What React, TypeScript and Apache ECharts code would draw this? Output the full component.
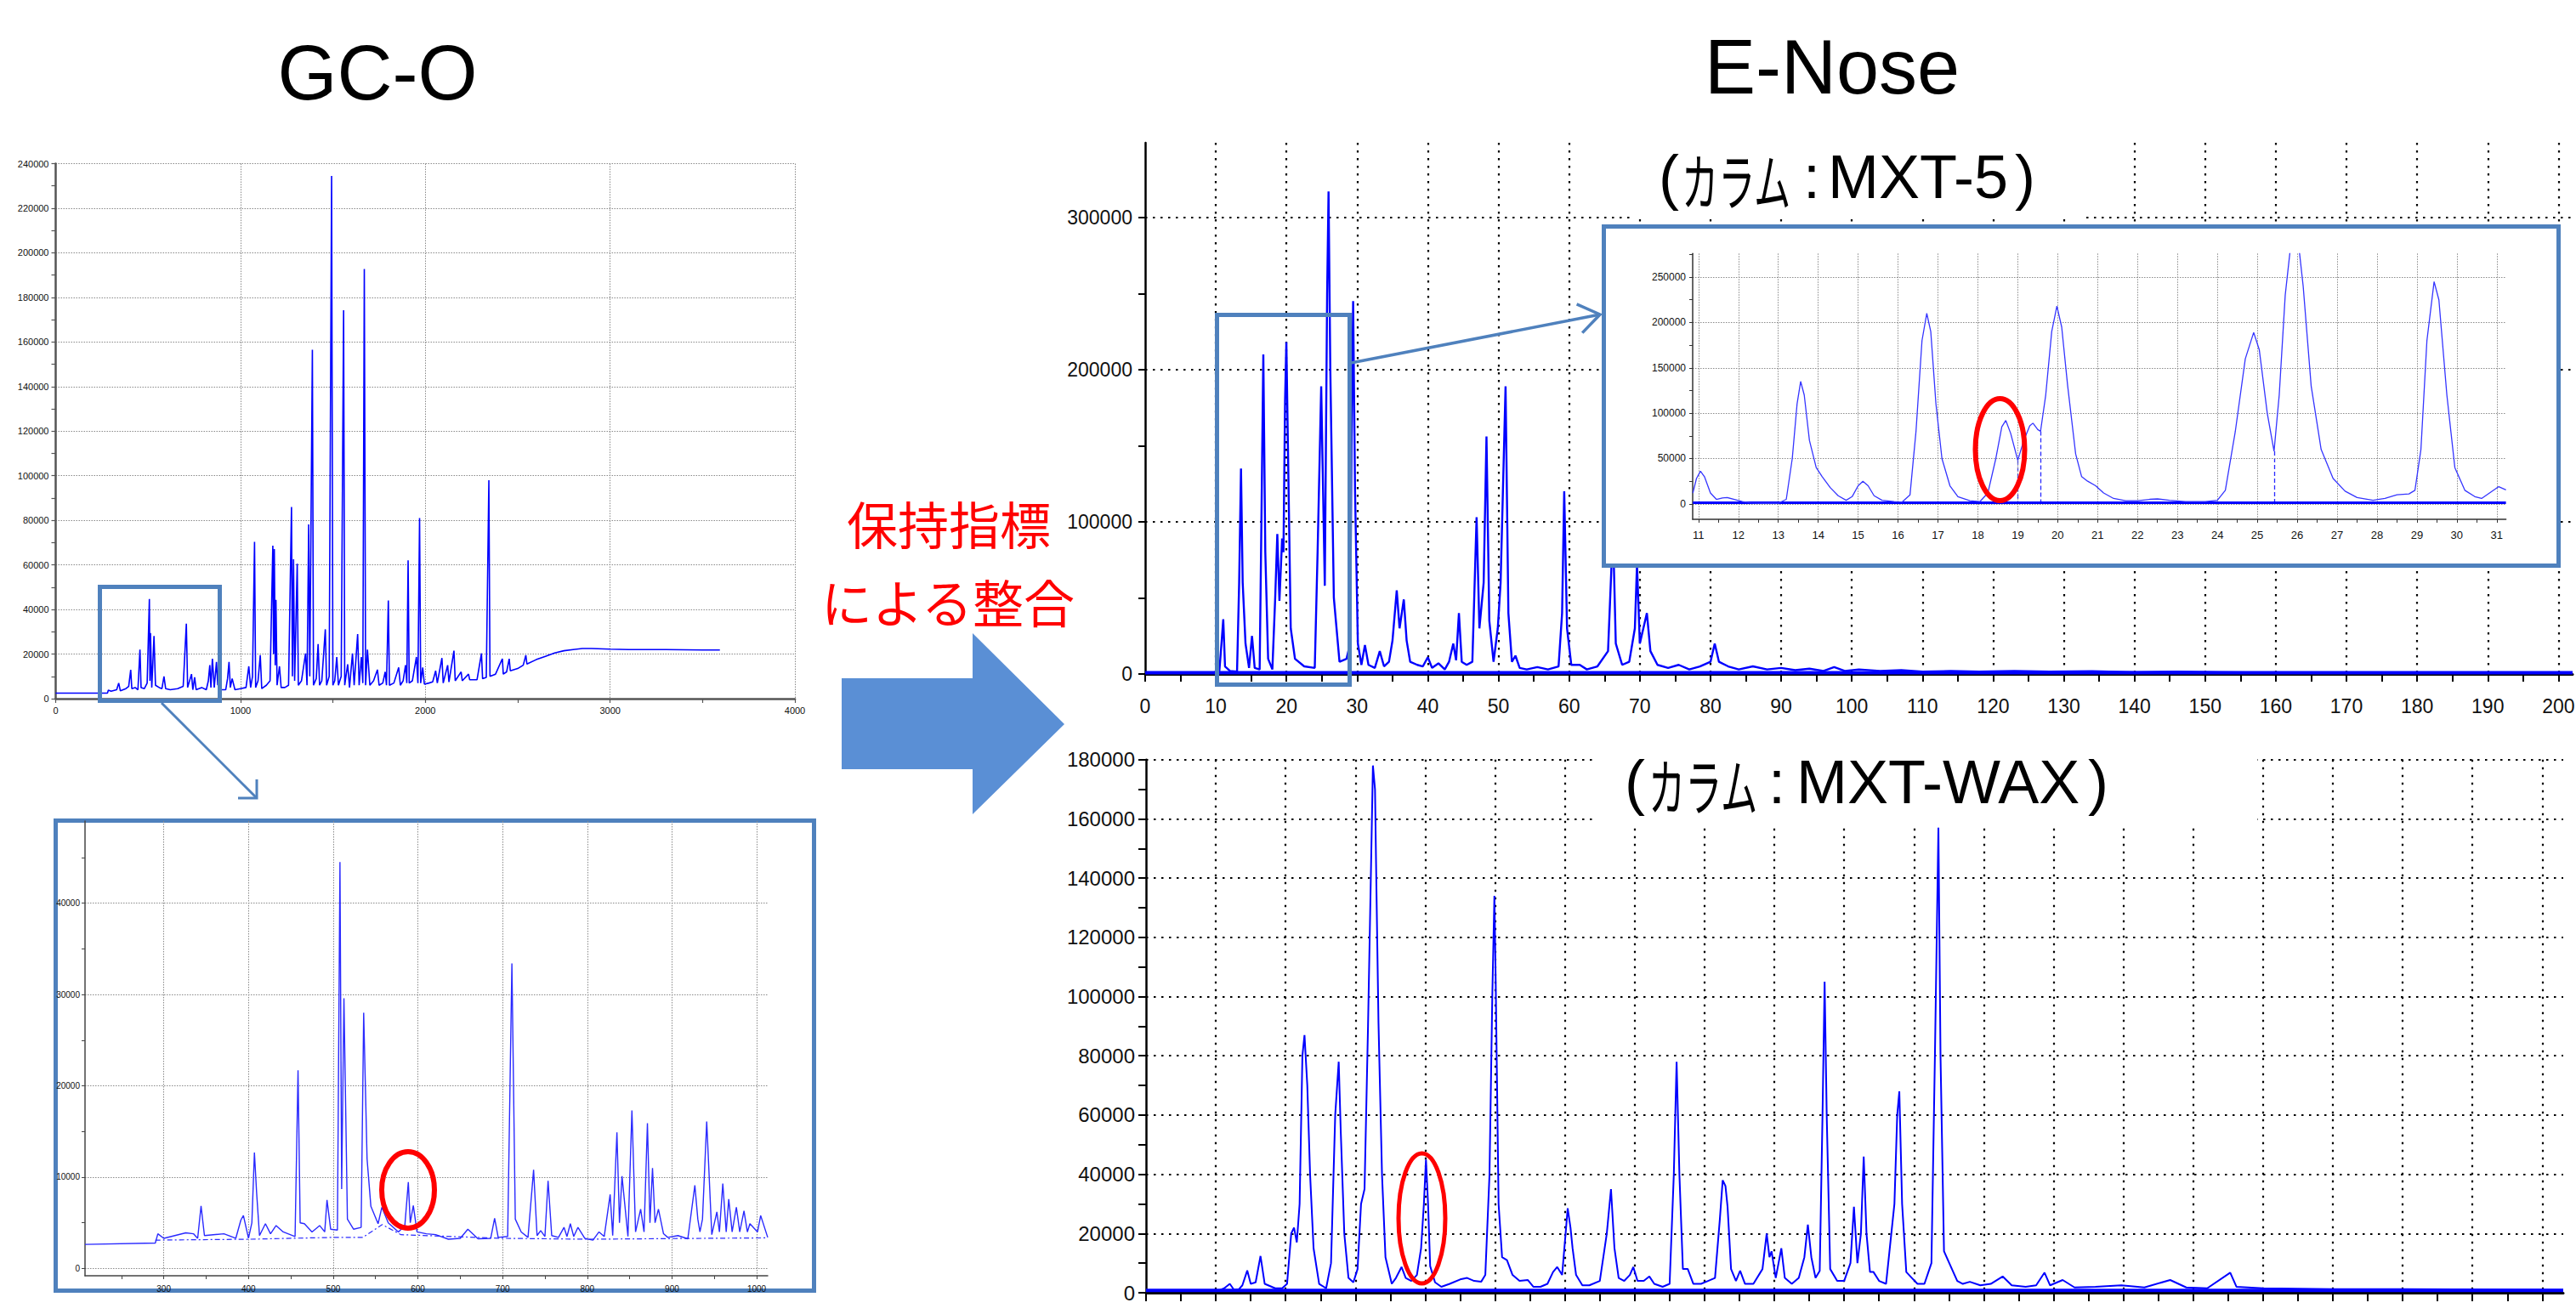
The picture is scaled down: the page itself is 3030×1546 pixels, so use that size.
import React, { useEffect, useRef } from "react";
import * as echarts from "echarts";

const F = "'Liberation Sans', Arial, Helvetica, sans-serif";
const CJK = "'Noto Sans CJK JP', 'Noto Sans CJK SC', sans-serif";

// ---------------- GC-O main chromatogram [time, intensity] ----------------
const GCO_MAIN: number[][] = [
  [0, 2500], [280, 2500], [285, 3800], [300, 3300], [330, 4000], [341, 7000], [350, 3500], [380, 4500], [395, 5500],
  [406, 12900], [412, 4500], [430, 5000], [445, 4000], [456, 22000], [462, 5000], [480, 4500], [495, 7000],
  [507, 44700], [510, 8000], [513, 29400], [520, 5000], [532, 28100], [540, 6000], [560, 5000], [575, 4500],
  [586, 10000], [595, 4500], [620, 4000], [660, 4500], [690, 5500], [707, 33600], [714, 5000], [735, 11000],
  [742, 4000], [752, 9600], [760, 4000], [790, 5000], [815, 4000], [826, 8000], [834, 15000], [840, 5000],
  [848, 17900], [858, 5000], [870, 16500], [877, 6000], [884, 10400], [895, 4000], [920, 4000], [930, 9000],
  [938, 16500], [945, 5000], [955, 9000], [970, 4000], [1000, 4500], [1030, 5000], [1045, 14500], [1055, 5000],
  [1065, 10000], [1076, 70300], [1082, 5000], [1095, 8000], [1107, 19500], [1115, 4500], [1140, 6000],
  [1160, 8000], [1175, 68600], [1179, 20000], [1183, 67100], [1188, 15000], [1192, 44300], [1198, 6000],
  [1211, 14500], [1220, 5000], [1240, 5000], [1260, 6000], [1276, 86000], [1281, 10000], [1287, 62500],
  [1293, 8000], [1307, 60500], [1313, 6000], [1330, 8000], [1352, 20300], [1360, 6000], [1369, 78200],
  [1375, 10000], [1389, 156500], [1395, 6000], [1410, 9000], [1420, 24500], [1428, 6000], [1440, 8000],
  [1459, 31100], [1466, 6000], [1480, 10000], [1493, 234500], [1500, 6000], [1510, 8000], [1521, 18700],
  [1530, 6000], [1545, 10000], [1558, 174200], [1564, 6000], [1580, 15400], [1590, 5000], [1606, 20300],
  [1615, 6000], [1634, 29000], [1642, 6000], [1654, 18700], [1662, 7000], [1670, 192700], [1677, 6000],
  [1687, 22000], [1700, 6000], [1720, 8000], [1741, 13000], [1750, 6000], [1770, 7000], [1783, 12000],
  [1790, 6000], [1800, 44000], [1806, 6000], [1830, 7000], [1856, 14000], [1865, 6000], [1880, 8000],
  [1893, 15000], [1900, 7000], [1907, 62000], [1913, 7000], [1930, 8000], [1952, 18700], [1960, 7000],
  [1969, 81000], [1975, 7000], [1986, 14000], [1995, 6500], [2020, 7000], [2040, 7500], [2056, 12500],
  [2065, 7000], [2090, 18200], [2097, 7000], [2121, 15000], [2128, 7500], [2155, 21500], [2162, 8000],
  [2194, 12000], [2200, 8000], [2234, 11000], [2240, 8500], [2280, 8500], [2304, 20300], [2310, 9000],
  [2330, 9500], [2344, 98000], [2350, 10000], [2380, 11000], [2417, 17900], [2422, 11000], [2440, 12000],
  [2454, 17900], [2460, 12500], [2500, 13500], [2530, 15000], [2544, 19500], [2550, 15500], [2600, 17500],
  [2650, 19000], [2700, 20500], [2750, 21500], [2800, 22000], [2850, 22500], [2900, 22500], [3000, 22200],
  [3100, 22000], [3300, 22000], [3500, 21800], [3594, 21800],
];

// ---------------- GC-O zoomed inset ----------------
const GCO_INSET: number[][] = [
  [207, 2630], [290, 2780], [293, 3800], [300, 3300], [326, 3900], [335, 3800], [340, 3300], [344, 6850],
  [348, 3600], [371, 3800], [385, 3300], [391, 5300], [394, 5800], [400, 3300], [404, 5000], [407, 12700],
  [409.6, 8300], [413, 3600], [420, 4900], [426, 3800], [432.6, 4700], [441, 4000], [455, 3500], [458.5, 21700],
  [461, 5000], [466, 4900], [475, 4000], [484, 4700], [490, 4000], [492.7, 7500], [497, 4300], [505, 4200],
  [508, 44500], [510, 8700], [512.7, 29600], [516.8, 5400], [524, 4300], [533, 4500], [536, 28000], [540, 12000],
  [544.5, 6800], [553, 4900], [557.5, 6700], [565, 5000], [577, 4000], [584.6, 4700], [588.7, 9450], [591, 5000],
  [594.6, 6900], [599, 4000], [610, 3800], [621, 3700], [636, 3200], [650, 3300], [659, 4300], [671, 3250],
  [686, 3300], [690.6, 5500], [694.8, 3400], [706, 3500], [711, 33400], [715, 5400], [722, 4000], [730, 3400],
  [736.6, 10800], [740.7, 3600], [745, 4150], [750, 3500], [753.7, 9600], [758, 3600], [766, 3400],
  [772.5, 4500], [776, 3500], [780, 4900], [784, 3500], [789, 4500], [797, 3300], [806.7, 3100], [813.8, 4000],
  [820, 3500], [827, 8100], [830, 3600], [835, 14900], [838, 5000], [841, 10100], [848, 3500], [852.7, 17300],
  [857, 4000], [863, 6500], [867, 4000], [871, 15900], [874, 5000], [877, 11000], [880, 5000], [884, 6500],
  [890, 3800], [895, 3400], [907, 3600], [918.7, 3250], [927, 9100], [930.5, 5400], [933, 4000], [936, 5400],
  [941, 16100], [947, 3700], [953, 6200], [956, 4000], [960, 9300], [964, 4000], [967, 7600], [971, 4000],
  [976, 6700], [980, 4000], [985, 6300], [989, 4000], [992, 4900], [1001, 4000], [1004.7, 5800], [1013, 3400],
];
const GCO_INSET_BASE: number[][] = [
  [290, 3100], [400, 3200], [500, 3400], [535, 3400], [558, 4800], [580, 3700], [700, 3300], [800, 3200], [1013, 3350],
];

// ---------------- E-Nose MXT-5 main ----------------
const MXT5_MAIN: number[][] = [
  [0, 800], [9.5, 800], [10.5, 2000], [10.8, 20000], [11.05, 36000], [11.3, 5000], [12, 2000], [13.0, 1500],
  [13.3, 60000], [13.56, 135000], [13.8, 60000], [14.2, 20000], [14.7, 4000], [15.12, 25000], [15.5, 4000],
  [16.2, 3000], [16.45, 100000], [16.72, 210000], [17.0, 80000], [17.4, 10000], [18.0, 3000], [18.4, 50000],
  [18.7, 92000], [19.0, 48000], [19.38, 89000], [19.57, 80000], [19.8, 180000], [19.98, 218000], [20.2, 150000],
  [20.6, 30000], [21.2, 10000], [22.5, 5000], [24.0, 4000], [24.4, 80000], [24.91, 189000], [25.42, 58000],
  [25.75, 250000], [25.95, 317000], [26.2, 200000], [26.7, 50000], [27.5, 8000], [28.5, 10000], [29.0, 20000],
  [29.2, 150000], [29.43, 245000], [29.7, 120000], [30.1, 20000], [30.6, 6000], [31.1, 19000], [31.6, 6000],
  [32.5, 4000], [33.2, 15000], [33.8, 5000], [34.5, 8000], [35.0, 22000], [35.6, 55000], [36.0, 30000],
  [36.6, 49000], [37.0, 22000], [37.5, 8000], [38.5, 6000], [39.3, 5000], [40.0, 11000], [40.6, 4000],
  [41.5, 7000], [42.4, 3000], [43.0, 8000], [43.6, 20000], [44.0, 9000], [44.4, 40000], [44.8, 8000],
  [45.5, 6000], [46.3, 8000], [46.9, 103000], [47.3, 30000], [47.9, 60000], [48.3, 156000], [48.7, 35000],
  [49.3, 8000], [49.9, 30000], [50.3, 60000], [51.0, 189000], [51.4, 40000], [51.9, 8000], [52.4, 12000],
  [53.0, 4000], [54.0, 3000], [55.5, 4500], [57.0, 3000], [58.5, 5000], [59.0, 40000], [59.3, 120000],
  [59.7, 30000], [60.3, 6000], [61.5, 6000], [62.5, 3000], [64.0, 5000], [65.5, 15000], [66.2, 95000],
  [66.6, 20000], [67.5, 6000], [68.5, 8000], [69.3, 30000], [69.6, 72000], [70.0, 20000], [70.5, 30000],
  [71.0, 40000], [71.5, 15000], [72.5, 6000], [74.0, 4000], [75.5, 6000], [77.0, 3000], [78.5, 5000],
  [80.0, 8000], [80.6, 20000], [81.2, 8000], [82.5, 5000], [84.0, 3000], [86.0, 5000], [88.0, 3000],
  [90.0, 4000], [92.0, 2500], [94.0, 3500], [96.0, 2000], [97.5, 4500], [99.0, 2000], [101.0, 3000],
  [104.0, 2000], [107.0, 2500], [110.0, 1500], [114.0, 2000], [118.0, 1500], [123.0, 2000], [128.0, 1500],
  [134.0, 1800], [140.0, 1200], [146.0, 1500], [152.0, 1200], [156.0, 1000], [202.0, 800],
];
const MXT5_BASE: number[][] = [[0, 800], [202, 800]];

// ---------------- E-Nose MXT-5 zoomed inset ----------------
const MXT5_INSET: number[][] = [
  [10.86, 12000], [10.95, 28000], [11.05, 36000], [11.15, 30000], [11.3, 12000], [11.45, 5000], [11.6, 6500],
  [11.72, 7000], [11.9, 5000], [12.1, 2500], [12.3, 1200], [12.6, 800], [13.0, 800], [13.2, 5000],
  [13.35, 50000], [13.47, 110000], [13.56, 135000], [13.65, 120000], [13.78, 70000], [13.95, 40000],
  [14.1, 30000], [14.3, 18000], [14.5, 9000], [14.7, 4000], [14.85, 8000], [15.0, 20000], [15.12, 25000],
  [15.25, 20000], [15.4, 9000], [15.6, 4000], [15.9, 2500], [16.1, 2000], [16.3, 10000], [16.45, 80000],
  [16.6, 180000], [16.72, 210000], [16.82, 190000], [16.95, 110000], [17.1, 50000], [17.3, 20000],
  [17.5, 8000], [17.8, 3500], [18.05, 2500], [18.25, 12000], [18.45, 50000], [18.6, 85000], [18.7, 92000],
  [18.82, 78000], [19.0, 48000], [19.15, 70000], [19.3, 86000], [19.38, 89000], [19.5, 82000], [19.57, 80000],
  [19.7, 120000], [19.85, 190000], [19.98, 218000], [20.1, 195000], [20.25, 130000], [20.45, 55000],
  [20.6, 30000], [20.75, 25000], [20.95, 20000], [21.15, 12000], [21.4, 6000], [21.7, 3500], [22.0, 3500],
  [22.3, 5000], [22.5, 5500], [22.8, 4000], [23.2, 2500], [23.7, 2500], [24.0, 4000], [24.2, 15000],
  [24.45, 80000], [24.7, 160000], [24.91, 189000], [25.05, 170000], [25.25, 100000], [25.42, 58000],
  [25.55, 120000], [25.7, 230000], [25.85, 290000], [26.0, 300000], [26.15, 240000], [26.35, 130000],
  [26.6, 60000], [26.9, 28000], [27.2, 14000], [27.5, 7000], [27.9, 4000], [28.2, 6000], [28.5, 10000],
  [28.8, 11000], [28.95, 15000], [29.1, 60000], [29.25, 180000], [29.43, 245000], [29.55, 225000],
  [29.75, 120000], [29.95, 40000], [30.2, 15000], [30.45, 8000], [30.62, 6000], [30.85, 13000],
  [31.05, 19000], [31.23, 15500],
];
const MXT5_INSET_BASE: number[][] = [[10.86, 1200], [31.23, 1200]];
const MXT5_INSET_DROPS: number[][] = [[19.0, 48000], [19.57, 80000], [25.42, 58000]];

// ---------------- E-Nose MXT-WAX ----------------
const WAX_MAIN: number[][] = [
  [0, 800], [10.5, 800], [11.2, 1500], [12.0, 3000], [12.6, 1000], [13.3, 1200], [13.8, 2500], [14.5, 7500],
  [15.0, 3000], [15.7, 3500], [16.4, 12400], [17.0, 3000], [18.5, 1500], [19.5, 1500], [20.2, 3000],
  [20.8, 20000], [21.2, 22000], [21.6, 17000], [22.0, 30000], [22.4, 80000], [22.7, 87000], [23.1, 70000],
  [23.5, 40000], [24.0, 15000], [24.8, 3000], [25.8, 1500], [26.5, 10000], [27.1, 60000], [27.6, 78000],
  [27.9, 54000], [28.4, 20000], [29.0, 5000], [29.7, 3500], [30.3, 8000], [30.8, 30000], [31.3, 35000],
  [31.8, 90000], [32.2, 140000], [32.5, 178000], [32.8, 170000], [33.0, 137000], [33.3, 91000], [33.8, 40000],
  [34.3, 12000], [35.2, 3000], [35.8, 5000], [36.6, 8700], [37.2, 5000], [38.0, 4000], [38.8, 6000],
  [39.4, 15000], [39.8, 30000], [40.1, 45000], [40.4, 30000], [40.7, 9000], [41.4, 3500], [42.3, 2000],
  [43.5, 3000], [45.0, 4500], [46.0, 5000], [47.0, 4000], [48.0, 3700], [48.6, 6000], [49.2, 40000],
  [49.6, 100000], [49.9, 134000], [50.1, 103000], [50.5, 30000], [51.0, 12000], [51.7, 11000], [52.5, 6000],
  [53.5, 4000], [54.7, 4300], [55.5, 2000], [56.5, 2000], [57.5, 3000], [58.3, 7000], [58.9, 8700],
  [59.6, 6000], [60.1, 20000], [60.4, 28500], [60.8, 22000], [61.1, 15000], [61.6, 6000], [62.5, 2500],
  [63.5, 2500], [65.0, 4000], [66.0, 20000], [66.6, 35000], [67.1, 15000], [67.7, 5000], [68.5, 4000],
  [69.3, 6000], [69.8, 8700], [70.4, 4000], [71.3, 4000], [72.1, 5500], [72.8, 3000], [74.0, 2000],
  [75.0, 3000], [75.6, 40000], [76.0, 78000], [76.4, 40000], [76.9, 8000], [77.6, 8000], [78.4, 3000],
  [79.5, 3000], [80.5, 4000], [81.5, 5000], [82.2, 25000], [82.6, 38000], [83.0, 36000], [83.3, 29000],
  [83.8, 8000], [84.5, 4000], [85.1, 7400], [85.8, 3000], [87.0, 3000], [88.3, 8000], [88.9, 20000],
  [89.3, 12000], [89.6, 14000], [90.2, 5000], [91.0, 15000], [91.5, 5000], [92.5, 3000], [93.5, 5000],
  [94.3, 12000], [94.8, 23000], [95.3, 12000], [95.9, 5000], [96.5, 7400], [96.9, 60000], [97.2, 105000],
  [97.5, 60000], [98.0, 8000], [99.0, 4000], [100.0, 4000], [100.9, 10000], [101.4, 29000], [101.9, 10000],
  [102.4, 20000], [102.8, 46000], [103.2, 20000], [103.7, 7000], [104.2, 7000], [105.0, 4000], [106.0, 3000],
  [107.2, 30000], [107.6, 60000], [107.9, 68000], [108.3, 30000], [108.9, 7000], [109.7, 5000], [110.5, 3000],
  [111.5, 3000], [112.5, 10000], [113.0, 80000], [113.5, 157000], [113.8, 80000], [114.3, 14000],
  [115.3, 8700], [116.2, 4000], [117.0, 3000], [118.0, 3700], [119.5, 2500], [121.0, 3000], [122.7, 5500],
  [124.0, 2500], [126.0, 2000], [127.5, 2500], [128.7, 6800], [129.5, 2500], [131.3, 4300], [133.0, 1800],
  [136.0, 2000], [139.7, 2500], [143.0, 1800], [146.7, 4300], [149.0, 1800], [152.0, 1500], [155.3, 6800],
  [156.2, 2000], [160.0, 1500], [170.0, 1200], [180.0, 1200], [203.0, 1000],
];
const WAX_BASE: number[][] = [[0, 800], [203, 800]];

// ---------------- tick labels ----------------
const GCO_MAIN_X_LABELS = [0, 1000, 2000, 3000, 4000];
const GCO_MAIN_Y_LABELS = [0, 20000, 40000, 60000, 80000, 100000, 120000, 140000, 160000, 180000, 200000, 220000, 240000];
const GCO_INSET_X_LABELS = [300, 400, 500, 600, 700, 800, 900, 1000];
const GCO_INSET_Y_LABELS = [0, 10000, 20000, 30000, 40000];
const MXT5_X_LABELS = [0, 10, 20, 30, 40, 50, 60, 70, 80, 90, 100, 110, 120, 130, 140, 150, 160, 170, 180, 190, 200];
const MXT5_Y_LABELS = [0, 100000, 200000, 300000];
const MXT5_INSET_X_LABELS = [11, 12, 13, 14, 15, 16, 17, 18, 19, 20, 21, 22, 23, 24, 25, 26, 27, 28, 29, 30, 31];
const MXT5_INSET_Y_LABELS = [0, 50000, 100000, 150000, 200000, 250000];
const WAX_Y_LABELS = [0, 20000, 40000, 60000, 80000, 100000, 120000, 140000, 160000, 180000];

function steps(a: number, b: number, s: number): number[] {
  const out: number[] = [];
  for (let v = a; v <= b + 1e-9; v += s) out.push(Math.round(v * 1000) / 1000);
  return out;
}

type AxisCfg = {
  grid: number; min: number; max: number; labels: number[]; ticks: number[]; splits: number[];
  lineColor: string; lineWidth: number; tickLen: number; tickWidth: number; fontSize: number;
  margin: number; showLabels: boolean; split: any; z: number;
};

function makeAxes(c: AxisCfg, dim: "x" | "y") {
  const visible: any = {
    type: "value", gridIndex: c.grid, min: c.min, max: c.max, z: c.z,
    position: dim === "x" ? "bottom" : "left",
    axisLine: { show: true, onZero: false, lineStyle: { color: c.lineColor, width: c.lineWidth } },
    axisTick: { show: true, customValues: c.ticks, length: c.tickLen, lineStyle: { color: c.lineColor, width: c.tickWidth } },
    axisLabel: {
      show: c.showLabels, customValues: c.labels, fontSize: c.fontSize, color: "#111", fontFamily: F,
      margin: c.margin, formatter: (v: number) => String(v),
    },
    splitLine: { show: false }, minorTick: { show: false }, minorSplitLine: { show: false },
  };
  const hidden: any = {
    type: "value", gridIndex: c.grid, min: c.min, max: c.max, z: c.z,
    position: dim === "x" ? "top" : "right",
    axisLine: { show: false, onZero: false },
    axisTick: { show: false, customValues: c.splits },
    axisLabel: { show: false },
    splitLine: { show: true, lineStyle: c.split },
  };
  return [visible, hidden];
}

const GRAY_DOT = { color: "#8a8a8a", width: 1, type: [1.5, 1.5] };
const BLACK_DOT = { color: "#000", width: 2.2, type: [2.5, 6.5] };

function lineSeries(data: number[][], g: number, color: string, width: number, z: number, extra: any = {}) {
  return {
    type: "line", xAxisIndex: 2 * g, yAxisIndex: 2 * g, data, showSymbol: false, symbol: "none",
    lineStyle: { color, width, ...(extra.lineStyle || {}) }, itemStyle: { color }, z, silent: true,
    animation: false, clip: true, ...(extra.rest || {}),
  };
}

function buildOption() {
  const grids = [
    { left: 65.5, top: 192.5, width: 869.5, height: 629.5 },
    { left: 100, top: 966, width: 803, height: 535 },
    { left: 1347, top: 168, width: 1679, height: 625 },
    { left: 1991, top: 298.3, width: 956.6, height: 312.7 },
    { left: 1348, top: 893.7, width: 1667, height: 627.3 },
  ].map((g) => ({ ...g, containLabel: false, outerBoundsMode: "none", show: false }));

  const xCfg: AxisCfg[] = [
    { grid: 0, min: 0, max: 4000, labels: GCO_MAIN_X_LABELS, ticks: steps(0, 4000, 500), splits: [1000, 2000, 3000, 4000],
      lineColor: "#555", lineWidth: 2.5, tickLen: 5, tickWidth: 1.2, fontSize: 11, margin: 8, showLabels: true, split: GRAY_DOT, z: 0 },
    { grid: 1, min: 207, max: 1013, labels: GCO_INSET_X_LABELS, ticks: steps(250, 1000, 50), splits: GCO_INSET_X_LABELS,
      lineColor: "#444", lineWidth: 1.5, tickLen: 4, tickWidth: 1, fontSize: 10, margin: 10, showLabels: true, split: GRAY_DOT, z: 10 },
    { grid: 2, min: 0, max: 202, labels: MXT5_X_LABELS, ticks: steps(0, 200, 5), splits: steps(10, 200, 10),
      lineColor: "#000", lineWidth: 3, tickLen: 9, tickWidth: 2, fontSize: 23, margin: 26, showLabels: true, split: BLACK_DOT, z: 0 },
    { grid: 3, min: 10.855, max: 31.23, labels: MXT5_INSET_X_LABELS, ticks: steps(11, 31, 0.5), splits: MXT5_INSET_X_LABELS,
      lineColor: "#333", lineWidth: 1.5, tickLen: 4, tickWidth: 1, fontSize: 13, margin: 12, showLabels: true, split: GRAY_DOT, z: 10 },
    { grid: 4, min: 0, max: 203, labels: [], ticks: steps(0, 200, 5), splits: steps(10, 200, 10),
      lineColor: "#000", lineWidth: 3, tickLen: 10, tickWidth: 2, fontSize: 23, margin: 26, showLabels: false, split: BLACK_DOT, z: 0 },
  ];
  const yCfg: AxisCfg[] = [
    { grid: 0, min: 0, max: 240000, labels: GCO_MAIN_Y_LABELS, ticks: steps(0, 240000, 10000), splits: steps(20000, 240000, 20000),
      lineColor: "#555", lineWidth: 2.5, tickLen: 5, tickWidth: 1.2, fontSize: 11, margin: 8, showLabels: true, split: GRAY_DOT, z: 0 },
    { grid: 1, min: -800, max: 49000, labels: GCO_INSET_Y_LABELS, ticks: steps(0, 45000, 5000), splits: GCO_INSET_Y_LABELS,
      lineColor: "#444", lineWidth: 1.5, tickLen: 4, tickWidth: 1, fontSize: 10, margin: 6, showLabels: true, split: GRAY_DOT, z: 10 },
    { grid: 2, min: 0, max: 349000, labels: MXT5_Y_LABELS, ticks: steps(0, 300000, 50000), splits: [100000, 200000, 300000],
      lineColor: "#000", lineWidth: 2.5, tickLen: 8, tickWidth: 2, fontSize: 23, margin: 15, showLabels: true, split: BLACK_DOT, z: 0 },
    { grid: 3, min: -17000, max: 276000, labels: MXT5_INSET_Y_LABELS, ticks: steps(0, 275000, 25000), splits: MXT5_INSET_Y_LABELS,
      lineColor: "#333", lineWidth: 1.5, tickLen: 4, tickWidth: 1, fontSize: 12, margin: 8, showLabels: true, split: GRAY_DOT, z: 10 },
    { grid: 4, min: 0, max: 180000, labels: WAX_Y_LABELS, ticks: steps(0, 180000, 10000), splits: steps(20000, 180000, 20000),
      lineColor: "#000", lineWidth: 2.5, tickLen: 9, tickWidth: 2, fontSize: 24, margin: 13, showLabels: true, split: BLACK_DOT, z: 0 },
  ];

  const xAxis: any[] = [];
  const yAxis: any[] = [];
  xCfg.forEach((c) => xAxis.push(...makeAxes(c, "x")));
  yCfg.forEach((c) => yAxis.push(...makeAxes(c, "y")));

  const BLUE = "#0000ff";
  const series: any[] = [
    lineSeries(GCO_MAIN, 0, BLUE, 1.6, 2),
    lineSeries(GCO_INSET, 1, "#2a2aff", 1.4, 12),
    lineSeries(GCO_INSET_BASE, 1, "#2a2aff", 1.2, 12, { lineStyle: { type: [6, 3, 2, 3] } }),
    lineSeries(MXT5_BASE, 2, BLUE, 4, 2),
    lineSeries(MXT5_MAIN, 2, BLUE, 2.4, 2),
    lineSeries(MXT5_INSET_BASE, 3, BLUE, 3, 12),
    lineSeries(MXT5_INSET, 3, "#3535ff", 1.3, 12, {
      rest: {
        markLine: {
          silent: true, symbol: "none", animation: false, label: { show: false },
          lineStyle: { color: "#2a2aff", width: 1.3, type: [5, 3] },
          data: MXT5_INSET_DROPS.map((p) => [{ coord: [p[0], p[1]] }, { coord: [p[0], 0] }]),
        },
      },
    }),
    lineSeries(WAX_BASE, 4, BLUE, 4, 2),
    lineSeries(WAX_MAIN, 4, BLUE, 2, 2),
  ];

  const STEEL = "#4f81bd";
  const txt = (text: string, x: number, y: number, size: number, family: string, fill = "#000", align = "center", scaleX = 1, z = 30) => ({
    type: "text", x, y, scaleX, z, silent: true,
    style: { text, x: 0, y: 0, fontSize: size, fontFamily: family, fill, textAlign: align, textVerticalAlign: "middle" },
  });

  const graphic: any[] = [
    // title white backgrounds hiding grid lines
    { type: "rect", z: 3, silent: true, shape: { x: 1920, y: 150, width: 530, height: 108 }, style: { fill: "#fff" } },
    { type: "rect", z: 3, silent: true, shape: { x: 1877, y: 868, width: 778, height: 104 }, style: { fill: "#fff" } },
    // inset frames
    { type: "rect", z: 5, silent: true, shape: { x: 65.5, y: 965.5, width: 892, height: 553 }, style: { fill: "#fff", stroke: STEEL, lineWidth: 5 } },
    { type: "rect", z: 5, silent: true, shape: { x: 1886.5, y: 266.5, width: 1123, height: 399 }, style: { fill: "#fff", stroke: STEEL, lineWidth: 5 } },
    // selection boxes on main charts
    { type: "rect", z: 20, silent: true, shape: { x: 117.5, y: 690.5, width: 141, height: 134 }, style: { fill: "none", stroke: STEEL, lineWidth: 5 } },
    { type: "rect", z: 20, silent: true, shape: { x: 1431.5, y: 370.5, width: 156, height: 435 }, style: { fill: "none", stroke: STEEL, lineWidth: 5 } },
    // connectors
    { type: "line", z: 20, silent: true, shape: { x1: 190, y1: 827, x2: 302, y2: 939 }, style: { stroke: STEEL, lineWidth: 3 } },
    { type: "polyline", z: 20, silent: true, shape: { points: [[280, 939], [302, 939], [302, 917]] }, style: { stroke: STEEL, lineWidth: 3, fill: "none" } },
    { type: "line", z: 20, silent: true, shape: { x1: 1589, y1: 427, x2: 1882, y2: 370 }, style: { stroke: STEEL, lineWidth: 3.5 } },
    { type: "polyline", z: 20, silent: true, shape: { points: [[1854.6, 357.8], [1882, 370], [1861.2, 391.6]] }, style: { stroke: STEEL, lineWidth: 3.5, fill: "none" } },
    // big arrow
    { type: "polygon", z: 20, silent: true, shape: { points: [[990, 798], [1144, 798], [1144, 745], [1252, 852], [1144, 958], [1144, 905], [990, 905]] }, style: { fill: "#5a8fd5" } },
    // red ellipses
    { type: "ellipse", z: 25, silent: true, shape: { cx: 480, cy: 1400, rx: 31, ry: 45 }, style: { fill: "none", stroke: "#ff0000", lineWidth: 6 } },
    { type: "ellipse", z: 25, silent: true, shape: { cx: 2352.5, cy: 529, rx: 29, ry: 60 }, style: { fill: "none", stroke: "#ff0000", lineWidth: 6 } },
    { type: "ellipse", z: 25, silent: true, shape: { cx: 1672.5, cy: 1433.5, rx: 27.5, ry: 76.5 }, style: { fill: "none", stroke: "#ff0000", lineWidth: 5 } },
    // titles
    txt("GC-O", 444, 86, 90, F),
    txt("E-Nose", 2155, 79, 90, F),
    txt("保持指標", 1116, 614, 60, CJK, "#ff0000"),
    txt("による整合", 1115, 706, 60, CJK, "#ff0000"),
    // (カラム:MXT-5)
    txt("(", 1951, 207.5, 72, F, "#000", "left"),
    txt("カラム", 1978, 209, 72, CJK, "#000", "left", 0.6),
    txt(":", 2121, 207.5, 72, F, "#000", "left"),
    txt("MXT-5", 2150, 207.5, 72, F, "#000", "left"),
    txt(")", 2370, 207.5, 72, F, "#000", "left"),
    // (カラム:MXT-WAX)
    txt("(", 1911, 919.5, 72, F, "#000", "left"),
    txt("カラム", 1939, 921, 72, CJK, "#000", "left", 0.6),
    txt(":", 2080, 919.5, 72, F, "#000", "left"),
    txt("MXT-WAX", 2113, 919.5, 72, F, "#000", "left"),
    txt(")", 2456, 919.5, 72, F, "#000", "left"),
  ];

  return {
    animation: false,
    backgroundColor: "#ffffff",
    grid: grids,
    xAxis,
    yAxis,
    series,
    graphic: { elements: graphic },
  };
}

export default function App() {
  const ref = useRef<HTMLDivElement>(null);
  useEffect(() => {
    if (!ref.current) return;
    const chart = echarts.init(ref.current, null, { renderer: "svg" });
    chart.setOption(buildOption() as any);
    return () => chart.dispose();
  }, []);
  return (
    <div
      ref={ref}
      style={{ position: "absolute", left: 0, top: 0, width: 3030, height: 1546, background: "#fff" }}
    />
  );
}
